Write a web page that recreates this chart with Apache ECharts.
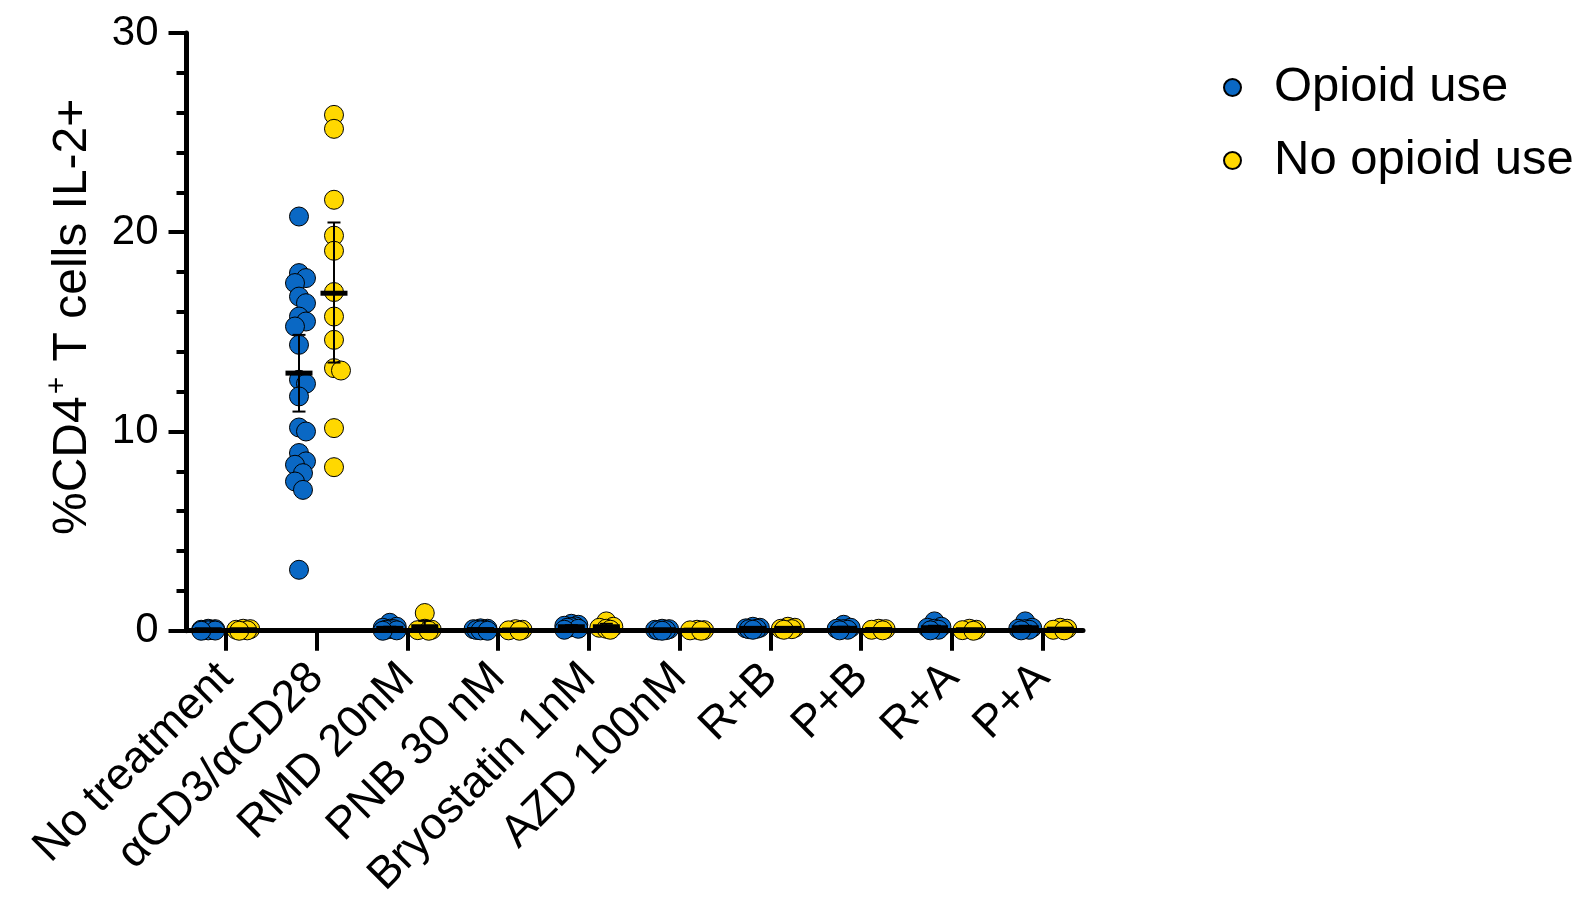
<!DOCTYPE html>
<html>
<head>
<meta charset="utf-8">
<script src="https://cdn.jsdelivr.net/npm/echarts@6/dist/echarts.min.js"></script>
<style>
html,body{margin:0;padding:0;background:#fff;}
#chart{width:1586px;height:901px;}
</style>
</head>
<body>
<div id="chart"></div>
<script>
// ---------- data ----------
var categories = ['No treatment', 'αCD3/αCD28', 'RMD 20nM', 'PNB 30 nM', 'Bryostatin 1nM', 'AZD 100nM', 'R+B', 'P+B', 'R+A', 'P+A'];
var yTicks = [0, 10, 20, 30];

var opioidValues = [
  [0.02, 0.05, 0.0, 0.08, 0.03, 0.1, 0.01, 0.04],
  [20.79, 17.95, 17.7, 17.45, 16.77, 16.44, 15.77, 15.52, 15.27, 14.35, 12.6, 12.4, 11.76, 10.2, 10.0, 8.92, 8.5, 8.33, 7.91, 7.49, 7.07, 3.06],
  [0.4, 0.15, 0.05, 0.1, 0.02, 0.2, 0.08, 0.0],
  [0.05, 0.1, 0.02, 0.08, 0.0, 0.12, 0.04],
  [0.35, 0.22, 0.3, 0.15, 0.1, 0.25, 0.05, 0.18],
  [0.05, 0.02, 0.08, 0.0, 0.1, 0.03],
  [0.15, 0.2, 0.1, 0.05, 0.12, 0.08],
  [0.3, 0.1, 0.05, 0.15, 0.02, 0.08],
  [0.47, 0.2, 0.1, 0.05, 0.15, 0.02],
  [0.47, 0.1, 0.05, 0.02, 0.15, 0.08]
];
var noOpioidValues = [
  [0.05, 0.1, 0.02, 0.08, 0.0],
  [25.89, 25.19, 21.63, 19.83, 19.07, 17.0, 15.77, 14.6, 13.18, 13.06, 10.17, 8.21],
  [0.89, 0.05, 0.0, 0.1, 0.03],
  [0.02, 0.05, 0.0, 0.08],
  [0.47, 0.2, 0.15, 0.1, 0.05],
  [0.0, 0.03, 0.05, 0.02],
  [0.15, 0.1, 0.05, 0.2, 0.08],
  [0.05, 0.1, 0.02, 0.08],
  [0.05, 0.1, 0.0, 0.03],
  [0.05, 0.15, 0.1, 0.02]
];
var opioidMean = [0.05, 12.93, 0.12, 0.06, 0.2, 0.05, 0.12, 0.12, 0.15, 0.15];
var opioidLow  = [0.02, 11.0, 0.05, 0.03, 0.12, 0.02, 0.07, 0.05, 0.05, 0.05];
var opioidHigh = [0.08, 14.85, 0.2, 0.09, 0.28, 0.08, 0.17, 0.2, 0.25, 0.25];
var noOpioidMean = [0.05, 16.94, 0.2, 0.04, 0.2, 0.03, 0.12, 0.06, 0.05, 0.08];
var noOpioidLow  = [0.02, 13.46, 0.0, 0.01, 0.05, 0.01, 0.06, 0.03, 0.01, 0.03];
var noOpioidHigh = [0.08, 20.49, 0.5, 0.07, 0.35, 0.05, 0.18, 0.09, 0.09, 0.13];

// ---------- layout ----------
var GRID = {left: 186.5, right: 503, top: 33, bottom: 270};
var XMIN = -0.432, XMAX = 9.444;
var plotW = 1586 - GRID.left - GRID.right;
var plotH = 901 - GRID.top - GRID.bottom;
var pxPerX = plotW / (XMAX - XMIN);
var pxPerY = plotH / 30;
var GROUP_OFF = 17.5 / pxPerX;
var FONT = 'Liberation Sans, Arial, Helvetica, sans-serif';

function swarm(groups, side) {
  var out = [];
  groups.forEach(function (vals, ci) {
    var center = ci + side * GROUP_OFF;
    var order = vals.map(function (v, i) { return i; }).sort(function (a, b) { return vals[b] - vals[a]; });
    var placed = [];
    var cands = [0, 4, -4, 7, -7];
    order.forEach(function (idx) {
      var py = vals[idx] * pxPerY;
      var best = 0, bestD = -1;
      for (var k = 0; k < cands.length; k++) {
        var md = Infinity;
        placed.forEach(function (p) {
          var d = Math.hypot(p[0] - cands[k], p[1] - py);
          if (d < md) md = d;
        });
        if (md >= 10) { best = cands[k]; bestD = md; break; }
        if (md > bestD) { bestD = md; best = cands[k]; }
      }
      placed.push([best, py]);
      out.push([center + best / pxPerX, vals[idx]]);
    });
  });
  return out;
}

function summary(mean, lo, hi, side) {
  return mean.map(function (m, i) { return [i + side * GROUP_OFF, m, lo[i], hi[i]]; });
}

function renderSummary(params, api) {
  var x = api.value(0);
  var pm = api.coord([x, api.value(1)]);
  var pl = api.coord([x, api.value(2)]);
  var ph = api.coord([x, api.value(3)]);
  var cap = 6.5, half = 13.5;
  var st = {stroke: '#000', lineWidth: 2};
  return {
    type: 'group',
    children: [
      {type: 'line', shape: {x1: pm[0], y1: pl[1], x2: pm[0], y2: ph[1]}, style: st},
      {type: 'line', shape: {x1: pm[0] - cap, y1: pl[1], x2: pm[0] + cap, y2: pl[1]}, style: st},
      {type: 'line', shape: {x1: pm[0] - cap, y1: ph[1], x2: pm[0] + cap, y2: ph[1]}, style: st},
      {type: 'rect', shape: {x: pm[0] - half, y: pm[1] - 2.5, width: half * 2, height: 5}, style: {fill: '#000'}}
    ]
  };
}

var BLUE = '#0a68c4', YELLOW = '#ffd800';

var chart = echarts.init(document.getElementById('chart'), null, {renderer: 'canvas'});
chart.setOption({
  backgroundColor: '#fff',
  animation: false,
  textStyle: {fontFamily: FONT},
  grid: {left: GRID.left, right: GRID.right, top: GRID.top, bottom: GRID.bottom, containLabel: false},
  legend: {
    orient: 'vertical',
    left: 1218,
    top: 58,
    itemWidth: 17,
    itemHeight: 17,
    itemGap: 24,
    icon: 'circle',
    data: ['Opioid use', 'No opioid use'],
    textStyle: {fontSize: 49, color: '#000', fontFamily: FONT, padding: [0, 0, 0, 28]}
  },
  xAxis: {
    type: 'value',
    min: XMIN,
    max: XMAX,
    z: 5,
    splitLine: {show: false},
    axisLine: {show: true, onZero: false, lineStyle: {color: '#000', width: 5}},
    axisTick: {show: true, customValues: categories.map(function (c, i) { return i; }), length: 20, lineStyle: {color: '#000', width: 4}},
    axisLabel: {
      show: true,
      customValues: categories.map(function (c, i) { return i; }),
      formatter: function (v) { return categories[Math.round(v)]; },
      rotate: 45,
      margin: 40,
      fontSize: 45,
      color: '#000',
      fontFamily: FONT
    }
  },
  yAxis: {
    type: 'value',
    min: 0,
    max: 30,
    interval: 10,
    z: 5,
    splitLine: {show: false},
    axisLine: {show: true, onZero: false, lineStyle: {color: '#000', width: 5}},
    axisTick: {show: true, length: 18, lineStyle: {color: '#000', width: 4}},
    minorTick: {show: true, splitNumber: 5, length: 10, lineStyle: {color: '#000', width: 4}},
    axisLabel: {
      fontSize: 42, color: '#000', margin: 28, fontFamily: FONT,
      customValues: yTicks
    },
    name: '{a|%CD4}{sup|+}{b| T cells IL-2+}',
    nameLocation: 'middle',
    nameRotate: 90,
    nameGap: 90,
    nameTextStyle: {
      color: '#000',
      rich: {
        a: {fontSize: 48, fontFamily: FONT, color: '#000', lineHeight: 54, verticalAlign: 'bottom', padding: [0, 0, 0, 30]},
        b: {fontSize: 48, fontFamily: FONT, color: '#000', lineHeight: 54, verticalAlign: 'bottom'},
        sup: {fontSize: 30, fontFamily: FONT, color: '#000', lineHeight: 54, verticalAlign: 'top', padding: [0, 2, 0, 2]}
      }
    }
  },
  series: [
    {
      name: 'Opioid use',
      type: 'scatter',
      symbol: 'circle',
      symbolSize: 19,
      z: 2,
      itemStyle: {color: BLUE, borderColor: '#000', borderWidth: 1, opacity: 1},
      data: swarm(opioidValues, -1)
    },
    {
      name: 'No opioid use',
      type: 'scatter',
      symbol: 'circle',
      symbolSize: 19,
      z: 2,
      itemStyle: {color: YELLOW, borderColor: '#000', borderWidth: 1, opacity: 1},
      data: swarm(noOpioidValues, 1)
    },
    {
      type: 'custom',
      z: 3,
      silent: true,
      renderItem: renderSummary,
      encode: {x: 0, y: [1, 2, 3]},
      data: summary(opioidMean, opioidLow, opioidHigh, -1)
    },
    {
      type: 'custom',
      z: 3,
      silent: true,
      renderItem: renderSummary,
      encode: {x: 0, y: [1, 2, 3]},
      data: summary(noOpioidMean, noOpioidLow, noOpioidHigh, 1)
    }
  ]
});
</script>
</body>
</html>
